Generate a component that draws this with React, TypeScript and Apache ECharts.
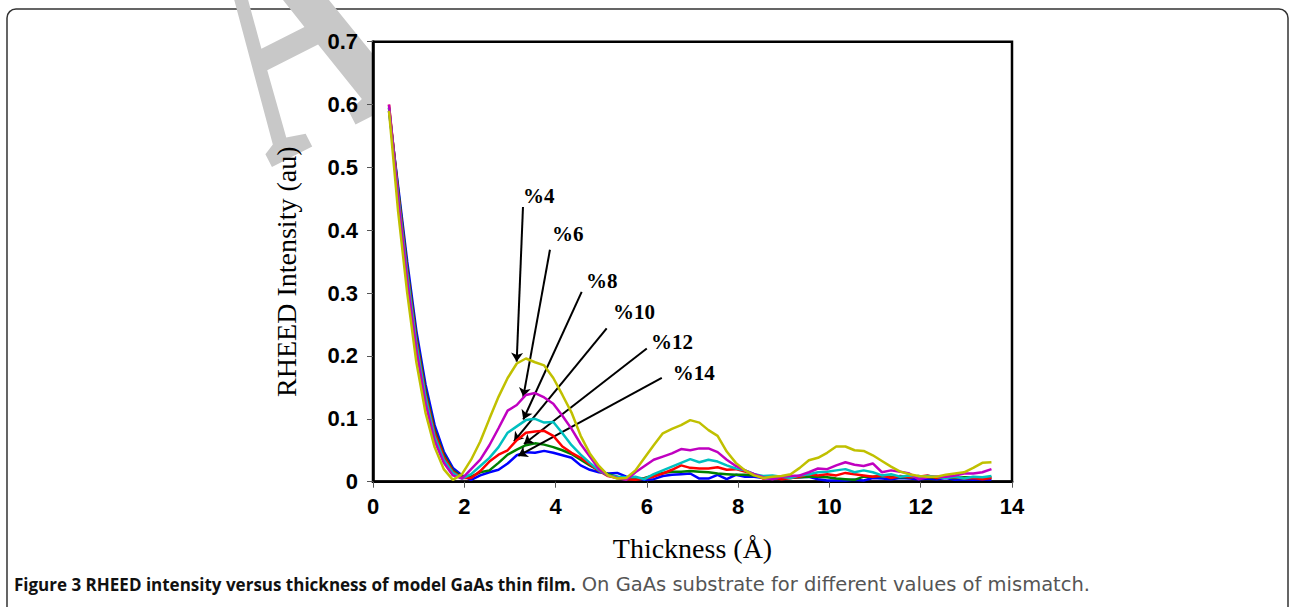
import React, { useEffect, useRef } from "react";
import * as echarts from "echarts";

const thickness = [0.35,0.55,0.75,0.95,1.15,1.35,1.55,1.75,1.95,2.15,2.35,2.55,2.75,2.95,3.15,3.35,3.55,3.75,3.95,4.15,4.35,4.55,4.75,4.95,5.15,5.35,5.55,5.75,5.95,6.15,6.35,6.55,6.75,6.95,7.15,7.35,7.55,7.75,7.95,8.15,8.35,8.55,8.75,8.95,9.15,9.35,9.55,9.75,9.95,10.15,10.35,10.55,10.75,10.95,11.15,11.35,11.55,11.75,11.95,12.15,12.35,12.55,12.75,12.95,13.15,13.35,13.55];

const mismatch4 = [
  0.59,0.43,0.30,0.19,0.11,0.055,0.02,0.003,0.012,0.035,
  0.064,0.10,0.135,0.165,0.188,0.196,0.19,0.185,0.165,0.138,
  0.11,0.073,0.045,0.025,0.01,0.005,0.006,0.018,0.038,0.058,
  0.077,0.084,0.09,0.098,0.094,0.082,0.073,0.048,0.03,0.018,
  0.01,0.006,0.008,0.009,0.012,0.022,0.034,0.038,0.046,0.056,
  0.056,0.05,0.049,0.042,0.033,0.024,0.016,0.012,0.009,0.008,
  0.008,0.011,0.013,0.015,0.022,0.03,0.031];
const mismatch6 = [
  0.60,0.45,0.32,0.21,0.125,0.065,0.03,0.01,0.005,0.02,
  0.035,0.058,0.085,0.113,0.122,0.138,0.141,0.134,0.124,0.105,
  0.084,0.06,0.04,0.02,0.01,0.006,0.003,0.015,0.025,0.035,
  0.04,0.045,0.052,0.05,0.053,0.053,0.047,0.035,0.025,0.018,
  0.012,0.007,0.004,0.008,0.009,0.01,0.015,0.021,0.02,0.026,
  0.031,0.027,0.025,0.029,0.015,0.018,0.016,0.013,0.004,0.007,
  0.008,0.008,0.01,0.013,0.013,0.015,0.02];
const mismatch8 = [
  0.595,0.455,0.33,0.22,0.135,0.072,0.035,0.014,0.005,0.012,
  0.025,0.038,0.055,0.078,0.088,0.098,0.1,0.094,0.095,0.077,
  0.058,0.043,0.03,0.018,0.01,0.008,0.007,0.008,0.004,0.012,
  0.018,0.024,0.03,0.036,0.031,0.035,0.032,0.026,0.021,0.018,
  0.012,0.009,0.01,0.008,0.006,0.01,0.012,0.015,0.016,0.018,
  0.02,0.015,0.018,0.015,0.01,0.012,0.008,0.01,0.007,0.009,
  0.008,0.006,0.008,0.005,0.008,0.007,0.009];
const mismatch10 = [
  0.60,0.46,0.335,0.225,0.14,0.078,0.04,0.016,0.006,0.006,
  0.017,0.032,0.043,0.05,0.066,0.078,0.08,0.081,0.073,0.056,
  0.046,0.038,0.028,0.017,0.009,0.006,0.004,0.003,0.005,0.008,
  0.013,0.019,0.026,0.022,0.021,0.021,0.023,0.019,0.02,0.016,
  0.012,0.005,0.007,0.004,0.006,0.008,0.012,0.01,0.012,0.01,
  0.014,0.012,0.01,0.008,0.01,0.006,0.009,0.007,0.008,0.01,
  0.006,0.008,0.007,0.005,0.006,0.004,0.006];
const mismatch12 = [
  0.595,0.465,0.34,0.23,0.145,0.082,0.043,0.018,0.008,0.008,
  0.015,0.018,0.03,0.043,0.051,0.058,0.061,0.059,0.055,0.05,
  0.044,0.035,0.026,0.018,0.012,0.008,0.004,0.004,0.006,0.01,
  0.014,0.016,0.016,0.017,0.016,0.015,0.013,0.012,0.011,0.011,
  0.01,0.008,0.006,0.005,0.006,0.007,0.008,0.008,0.007,0.005,
  0.004,0.003,0.008,0.008,0.009,0.008,0.007,0.007,0.009,0.007,
  0.006,0.007,0.006,0.007,0.007,0.006,0.007];
const mismatch14 = [
  0.59,0.47,0.35,0.24,0.155,0.09,0.048,0.022,0.01,0.003,
  0.01,0.015,0.019,0.029,0.042,0.047,0.046,0.049,0.046,0.042,
  0.038,0.026,0.019,0.015,0.013,0.014,0.008,0.006,0.003,0.004,
  0.009,0.011,0.012,0.013,0.005,0.005,0.011,0.004,0.011,0.008,
  0.008,0.006,0.005,0.006,0.008,0.007,0.008,0.004,0.002,0.002,
  0.002,0.003,0.002,0.006,0.005,0.004,0.006,0.005,0.004,0.005,
  0.004,0.006,0.003,0.004,0.003,0.004,0.003];

const seriesNames = ["%14", "%12", "%10", "%8", "%6", "%4"];
const seriesValues = [mismatch14, mismatch12, mismatch10, mismatch8, mismatch6, mismatch4];
const seriesColors = ["#0000FF", "#008000", "#FF0000", "#00C0C0", "#C000C0", "#C0C000"];

const annotationLabels = ["%4", "%6", "%8", "%10", "%12", "%14"];
const labelX = [3.286, 3.921, 4.666, 5.257, 6.09, 6.57];
const labelY = [0.454, 0.394, 0.319, 0.27, 0.222, 0.173];
const arrowStartX = [3.286, 3.877, 4.572, 5.12, 5.999, 6.327];
const arrowStartY = [0.437, 0.369, 0.302, 0.244, 0.212, 0.165];
const arrowEndX = [3.148, 3.292, 3.292, 3.089, 3.308, 3.183];
const arrowEndY = [0.191, 0.135, 0.099, 0.064, 0.06, 0.041];

const yTicks = [0, 0.1, 0.2, 0.3, 0.4, 0.5, 0.6, 0.7];
const xTicks = [0, 2, 4, 6, 8, 10, 12, 14];

export default function App() {
  const ref = useRef<HTMLDivElement>(null);
  useEffect(() => {
    if (!ref.current) return;
    const chart = echarts.init(ref.current, undefined, { renderer: "svg" });
    const lineSeries = seriesNames.map((name, i) => ({
      name,
      type: "line",
      showSymbol: false,
      symbol: "none",
      silent: true,
      lineStyle: { color: seriesColors[i], width: 2.5 },
      itemStyle: { color: seriesColors[i] },
      data: thickness.map((x, k) => [x, seriesValues[i][k]]),
      z: 3 + i,
    }));
    chart.setOption({
      animation: false,
      grid: {
        left: 373,
        top: 41.7,
        right: 277,
        bottom: 125.3,
        show: true,
        borderColor: "#000",
        borderWidth: 2.5,
        backgroundColor: "#fff",
      },
      xAxis: {
        type: "value",
        min: xTicks[0],
        max: xTicks[xTicks.length - 1],
        interval: 2,
        name: "Thickness (Å)",
        nameLocation: "middle",
        nameGap: 53,
        nameTextStyle: { fontFamily: "Liberation Serif", fontSize: 28, color: "#000" },
        axisLine: { show: true, lineStyle: { color: "#000", width: 2.5 } },
        axisTick: { show: true, length: 6, lineStyle: { color: "#555", width: 1 } },
        axisLabel: { margin: 14, fontSize: 22, fontWeight: "bold", fontFamily: "Liberation Sans", color: "#000" },
        splitLine: { show: false },
      },
      yAxis: {
        type: "value",
        min: yTicks[0],
        max: yTicks[yTicks.length - 1],
        interval: 0.1,
        name: "RHEED Intensity (au)",
        nameLocation: "middle",
        nameGap: 73,
        nameTextStyle: { fontFamily: "Liberation Serif", fontSize: 28, color: "#000", padding: [0, 20, 0, 0] },
        axisLine: { show: true, lineStyle: { color: "#000", width: 2.5 } },
        axisTick: { show: true, length: 6, lineStyle: { color: "#555", width: 1 } },
        axisLabel: { margin: 15, fontSize: 22, fontWeight: "bold", fontFamily: "Liberation Sans", color: "#000" },
        splitLine: { show: false },
      },
      series: [
        ...lineSeries,
        {
          name: "annotations",
          type: "scatter",
          symbolSize: 0,
          silent: true,
          z: 20,
          itemStyle: { opacity: 1 },
          data: annotationLabels.map((t, i) => ({ value: [labelX[i], labelY[i]], name: t })),
          label: {
            show: true,
            position: "right",
            distance: 0,
            formatter: (p: any) => p.name,
            fontFamily: "Liberation Serif",
            fontWeight: "bold",
            fontSize: 21,
            color: "#000",
            opacity: 1,
          },
          markLine: {
            silent: true,
            symbol: ["none", "arrow"],
            symbolSize: 9,
            label: { show: false },
            lineStyle: { color: "#000", width: 2, type: "solid", opacity: 1 },
            emphasis: { disabled: true },
            data: annotationLabels.map((_, i) => [
              { coord: [arrowStartX[i], arrowStartY[i]] },
              { coord: [arrowEndX[i], arrowEndY[i]] },
            ]),
          },
        },
      ],
      graphic: [
        {
          type: "rect",
          silent: true,
          z: -10,
          shape: { x: 7, y: 9, width: 1281, height: 650, r: 9 },
          style: { fill: "none", stroke: "#333", lineWidth: 1.5 },
        },
        {
          type: "text",
          silent: true,
          z: -5,
          x: 300,
          y: 227,
          rotation: 0.471,
          scaleX: 0.56,
          style: {
            text: "A",
            font: 'bold 405px "Liberation Serif"',
            fill: "#c8c8c8",
            verticalAlign: "bottom",
          },
        },
        {
          type: "text",
          silent: true,
          x: 14,
          y: 584,
          style: {
            text: "{b|Figure 3 RHEED intensity versus thickness of model GaAs thin film.}{r| On GaAs substrate for different values of mismatch.}",
            verticalAlign: "middle",
            rich: {
              b: { fontFamily: "Open Sans", fontWeight: "bold", fontSize: 17, fill: "#111" },
              r: { fontFamily: "DejaVu Sans", fontSize: 19.5, fill: "#555" },
            },
          },
        },
      ],
    });
    return () => chart.dispose();
  }, []);
  return <div ref={ref} style={{ position: "absolute", left: 0, top: 0, width: 1289, height: 607 }} />;
}
